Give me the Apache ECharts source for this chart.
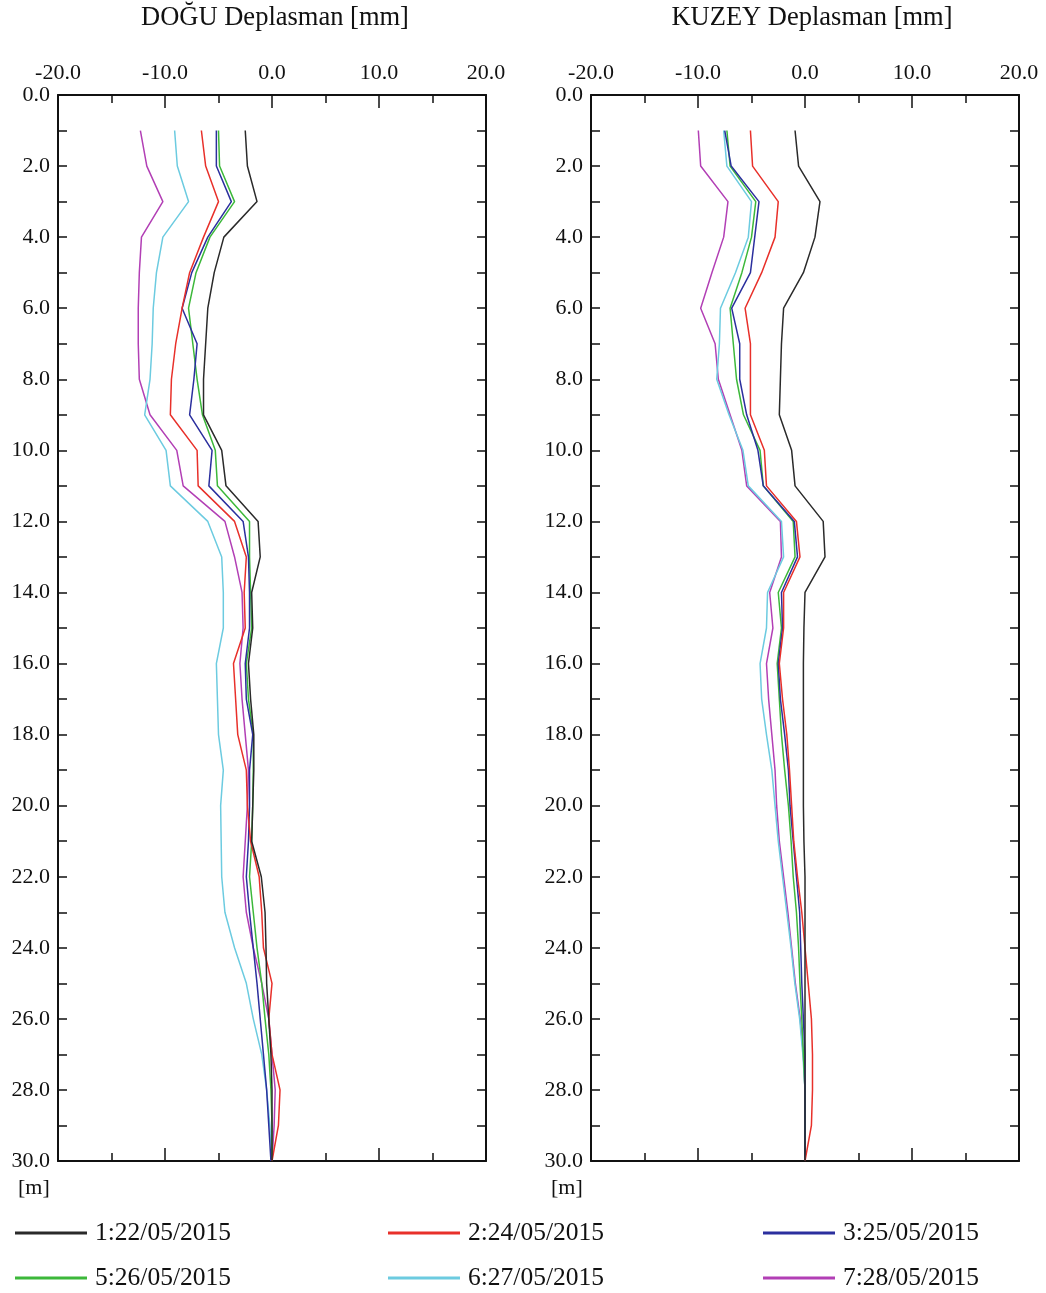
<!DOCTYPE html>
<html><head><meta charset="utf-8">
<script src="https://cdn.jsdelivr.net/npm/echarts@6/dist/echarts.min.js"></script>
<style>html,body{margin:0;padding:0;background:#fff}#c{width:1046px;height:1293px}</style>
</head><body><div id="c"></div>
<script>
// Depths [m]
const depths = [1,2,3,4,5,6,7,8,9,10,11,12,13,14,15,16,17,18,19,20,21,22,23,24,25,26,27,28,29,30];
const seriesNames = ['1:22/05/2015','2:24/05/2015','3:25/05/2015','5:26/05/2015','6:27/05/2015','7:28/05/2015'];
const seriesColors = ['#2a2a2a','#e8302a','#2b2f9e','#3cb83a','#6ccbe0','#b23fb5'];
const xTicks = [-20, 20, 10];
const yTicks = [0, 30, 2];
const panelTitles = ['DOĞU Deplasman [mm]', 'KUZEY Deplasman [mm]'];
const depthUnit = '[m]';

// DOĞU (East) displacement [mm]
const dogu1 = [-2.5,-2.3,-1.4,-4.5,-5.4,-6.0,-6.2,-6.4,-6.4,-4.7,-4.3,-1.3,-1.1,-1.9,-1.8,-2.2,-2.0,-1.7,-1.7,-1.8,-1.9,-1.0,-0.65,-0.56,-0.5,-0.3,-0.1,0,0,0];
const dogu2 = [-6.6,-6.2,-5.0,-6.4,-7.7,-8.4,-9.0,-9.4,-9.5,-7.0,-6.9,-3.5,-2.4,-2.6,-2.5,-3.6,-3.4,-3.2,-2.4,-2.3,-2.0,-1.2,-0.96,-0.8,0,-0.3,0,0.75,0.6,0];
const dogu3 = [-5.2,-5.2,-3.8,-6.0,-7.5,-8.4,-7.0,-7.3,-7.7,-5.6,-5.9,-2.7,-2.2,-2.1,-2.1,-2.5,-2.4,-1.8,-2.1,-2.1,-2.2,-2.4,-2.1,-1.75,-1.4,-1.1,-0.8,-0.5,-0.3,-0.1];
const dogu5 = [-5.0,-4.9,-3.5,-5.8,-7.1,-7.8,-7.4,-7.0,-6.5,-5.3,-5.1,-2.1,-2.1,-2.0,-1.9,-2.4,-2.2,-1.75,-1.75,-1.8,-1.9,-2.1,-1.75,-1.4,-0.96,-0.65,-0.3,-0.1,0,0];
const dogu6 = [-9.1,-8.85,-7.8,-10.2,-10.8,-11.1,-11.2,-11.4,-11.9,-9.9,-9.5,-6.0,-4.7,-4.55,-4.55,-5.2,-5.1,-5.0,-4.55,-4.8,-4.75,-4.7,-4.4,-3.5,-2.4,-1.75,-0.96,-0.5,-0.2,0];
const dogu7 = [-12.3,-11.7,-10.2,-12.2,-12.4,-12.5,-12.5,-12.4,-11.4,-8.9,-8.3,-4.4,-3.5,-2.8,-2.7,-3.0,-2.8,-2.5,-2.2,-2.3,-2.5,-2.7,-2.4,-1.75,-0.96,-0.3,0,0.3,0.2,0];

// KUZEY (North) displacement [mm]
const kuzey1 = [-0.93,-0.6,1.4,0.93,-0.15,-2.0,-2.2,-2.3,-2.4,-1.25,-0.93,1.7,1.87,0,-0.1,-0.15,-0.15,-0.15,-0.15,-0.15,-0.1,0,0,0,0,0,0,0,0,0];
const kuzey2 = [-5.1,-4.9,-2.5,-2.8,-4.05,-5.6,-5.1,-5.1,-5.1,-3.8,-3.6,-0.8,-0.47,-2.0,-2.0,-2.4,-2.1,-1.7,-1.45,-1.25,-1.05,-0.7,-0.3,0,0.3,0.6,0.7,0.7,0.6,0];
const kuzey3 = [-7.5,-6.9,-4.3,-4.7,-5.1,-6.85,-6.1,-6.1,-5.45,-4.4,-3.9,-1.0,-0.7,-2.2,-2.1,-2.5,-2.3,-1.9,-1.55,-1.4,-1.1,-0.8,-0.5,-0.4,-0.3,-0.15,0,0,0,0];
const kuzey5 = [-7.3,-7.0,-4.6,-5.0,-5.9,-7.0,-6.7,-6.4,-5.75,-4.2,-3.9,-1.1,-0.93,-2.5,-2.2,-2.6,-2.4,-2.2,-1.9,-1.55,-1.3,-1.1,-0.8,-0.6,-0.47,-0.3,-0.15,0,0,0];
const kuzey6 = [-7.6,-7.3,-5.0,-5.3,-6.5,-7.9,-8.0,-8.25,-7.1,-5.8,-5.3,-2.2,-2.0,-3.5,-3.6,-4.2,-4.05,-3.6,-3.1,-2.8,-2.5,-2.1,-1.7,-1.3,-0.95,-0.5,-0.2,0,0,0];
const kuzey7 = [-9.97,-9.75,-7.2,-7.6,-8.7,-9.75,-8.4,-8.1,-7.0,-5.9,-5.45,-2.3,-2.2,-3.3,-3.0,-3.6,-3.4,-3.1,-2.8,-2.65,-2.4,-2.0,-1.6,-1.25,-0.9,-0.45,-0.15,0,0,0];

const doguSets = [dogu1, dogu2, dogu3, dogu5, dogu6, dogu7];
const kuzeySets = [kuzey1, kuzey2, kuzey3, kuzey5, kuzey6, kuzey7];

const F = 'Liberation Serif';
const INK = '#111';

function xAxes(gi) {
  const base = {
    gridIndex: gi, type: 'value', min: xTicks[0], max: xTicks[1], interval: xTicks[2],
    axisLine: {show: true, onZero: false, lineStyle: {color: INK, width: 2}},
    axisTick: {show: true, inside: true, length: 13, lineStyle: {color: INK, width: 1.5}},
    minorTick: {show: true, splitNumber: 2, length: 8, lineStyle: {color: INK, width: 1.5}},
    splitLine: {show: false}
  };
  return [
    Object.assign({}, base, {position: 'top',
      axisLabel: {show: true, formatter: v => v.toFixed(1), fontFamily: F, fontSize: 22, color: INK, margin: 11}}),
    Object.assign({}, base, {position: 'bottom', axisLabel: {show: false}})
  ];
}
function yAxes(gi) {
  const base = {
    gridIndex: gi, type: 'value', inverse: true, min: yTicks[0], max: yTicks[1], interval: yTicks[2],
    axisLine: {show: true, onZero: false, lineStyle: {color: INK, width: 2}},
    axisTick: {show: true, inside: true, length: 9, lineStyle: {color: INK, width: 1.5}},
    minorTick: {show: true, splitNumber: 2, length: 9, lineStyle: {color: INK, width: 1.5}},
    splitLine: {show: false}
  };
  return [
    Object.assign({}, base, {position: 'left',
      axisLabel: {show: true, formatter: v => v.toFixed(1), fontFamily: F, fontSize: 22, color: INK, margin: 8}}),
    Object.assign({}, base, {position: 'right', axisLabel: {show: false}})
  ];
}

const series = [];
[doguSets, kuzeySets].forEach((sets, gi) => {
  sets.forEach((arr, k) => {
    series.push({
      name: seriesNames[k], type: 'line',
      xAxisIndex: gi * 2, yAxisIndex: gi * 2,
      data: depths.map((d, i) => [arr[i], d]),
      symbol: 'none', showSymbol: false,
      lineStyle: {color: seriesColors[k], width: 1.5},
      itemStyle: {color: seriesColors[k]},
      z: 3 + (5 - k)
    });
  });
});

const legendPos = [[15,1220],[388,1220],[763,1220],[15,1265],[388,1265],[763,1265]];
const legends = seriesNames.map((n, k) => ({
  data: [n], left: legendPos[k][0], top: legendPos[k][1], padding: 0,
  icon: 'rect', itemWidth: 72, itemHeight: 3,
  textStyle: {fontFamily: F, fontSize: 25.5, color: INK, padding: [0,0,0,3]},
  selectedMode: false
}));

const option = {
  animation: false,
  backgroundColor: '#fff',
  grid: [
    {left: 58, width: 428, top: 95, height: 1066},
    {left: 591, width: 428, top: 95, height: 1066}
  ],
  xAxis: xAxes(0).concat(xAxes(1)),
  yAxis: yAxes(0).concat(yAxes(1)),
  legend: legends,
  graphic: [
    {type: 'text', x: 275, y: 18, style: {text: panelTitles[0], font: '26.5px "Liberation Serif"', fill: INK, align: 'center', verticalAlign: 'middle'}},
    {type: 'text', x: 812, y: 18, style: {text: panelTitles[1], font: '26.5px "Liberation Serif"', fill: INK, align: 'center', verticalAlign: 'middle'}},
    {type: 'text', x: 18, y: 1188, style: {text: depthUnit, font: '22px "Liberation Serif"', fill: INK, verticalAlign: 'middle'}},
    {type: 'text', x: 551, y: 1188, style: {text: depthUnit, font: '22px "Liberation Serif"', fill: INK, verticalAlign: 'middle'}}
  ],
  series: series
};
echarts.init(document.getElementById('c')).setOption(option);
</script>
</body></html>
